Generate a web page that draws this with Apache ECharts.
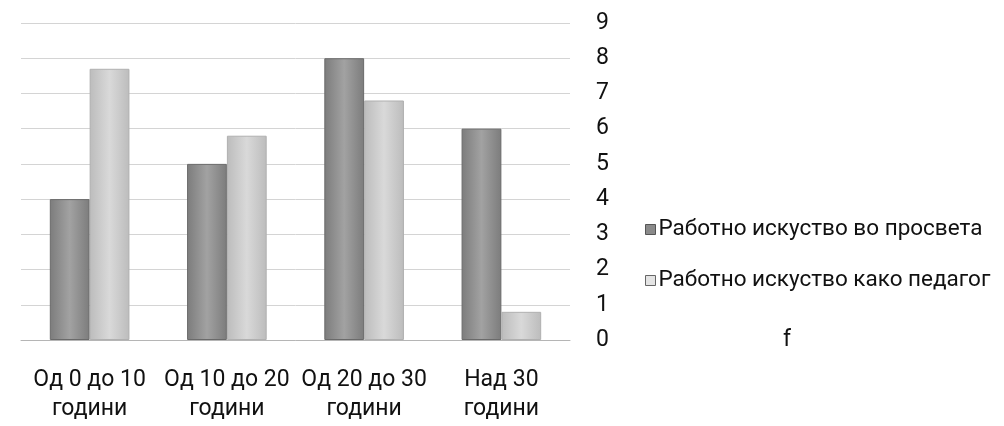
<!DOCTYPE html>
<html><head><meta charset="utf-8">
<script src="https://cdn.jsdelivr.net/npm/echarts@6/dist/echarts.min.js"></script>
<style>html,body{margin:0;padding:0;background:#fff}#c{width:1004px;height:426px}</style>
</head><body><div id="c"></div>
<script>
var categories = ['Од 0 до 10\nгодини', 'Од 10 до 20\nгодини', 'Од 20 до 30\nгодини', 'Над 30\nгодини'];
var seriesNames = ['Работно искуство во просвета', 'Работно искуство како педагог'];
var prosveta = [4, 5, 8, 6];
var pedagog = [7.7, 5.8, 6.8, 0.8];
var yTicks = [0, 1, 2, 3, 4, 5, 6, 7, 8, 9];

var FONT = 'Roboto';
var chart = echarts.init(document.getElementById('c'), null, {renderer: 'canvas'});
function grad(edge, mid) {
  return new echarts.graphic.LinearGradient(0, 0, 1, 0, [
    {offset: 0, color: edge}, {offset: 0.5, color: mid}, {offset: 1, color: edge}
  ]);
}
chart.setOption({
  animation: false,
  backgroundColor: '#fff',
  textStyle: {fontFamily: FONT},
  grid: {left: 21, right: 434, top: 23, bottom: 86},
  legend: {
    orient: 'vertical', left: 640, top: 213, itemWidth: 10, itemHeight: 10, itemGap: 28, icon: 'rect',
    textStyle: {fontFamily: FONT, fontSize: 22.5, color: '#111', padding: [0, 0, 0, -2]},
    data: [
      {name: seriesNames[0], itemStyle: {color: '#8a8a8a', borderColor: '#555', borderWidth: 1}},
      {name: seriesNames[1], itemStyle: {color: '#e4e4e4', borderColor: '#666', borderWidth: 1}}
    ]
  },
  graphic: [{type: 'text', left: 783, top: 329, style: {text: 'f', fontFamily: FONT, fontSize: 23, fill: '#111'}}],
  xAxis: {
    type: 'category', data: categories,
    axisLine: {show: true, lineStyle: {color: '#b5b5b5', width: 1}},
    axisTick: {show: false},
    axisLabel: {fontFamily: FONT, fontSize: 23, color: '#111', lineHeight: 29, margin: 26, interval: 0}
  },
  yAxis: {
    type: 'value', position: 'right', min: 0, max: 9, interval: 1,
    axisLine: {show: false}, axisTick: {show: false},
    axisLabel: {fontFamily: FONT, fontSize: 23, color: '#111', margin: 26,
      formatter: function (v) { return yTicks.indexOf(v) >= 0 ? String(v) : ''; }},
    splitLine: {lineStyle: {color: '#d4d4d4', width: 1}}
  },
  series: [
    {name: seriesNames[0], type: 'bar', data: prosveta, barGap: '0%', barCategoryGap: '42%',
     itemStyle: {color: grad('#7c7c7c', '#a2a2a2'), borderColor: '#6a6a6a', borderWidth: 1}},
    {name: seriesNames[1], type: 'bar', data: pedagog,
     itemStyle: {color: grad('#bcbcbc', '#d9d9d9'), borderColor: '#b0b0b0', borderWidth: 1}}
  ]
});
</script></body></html>
